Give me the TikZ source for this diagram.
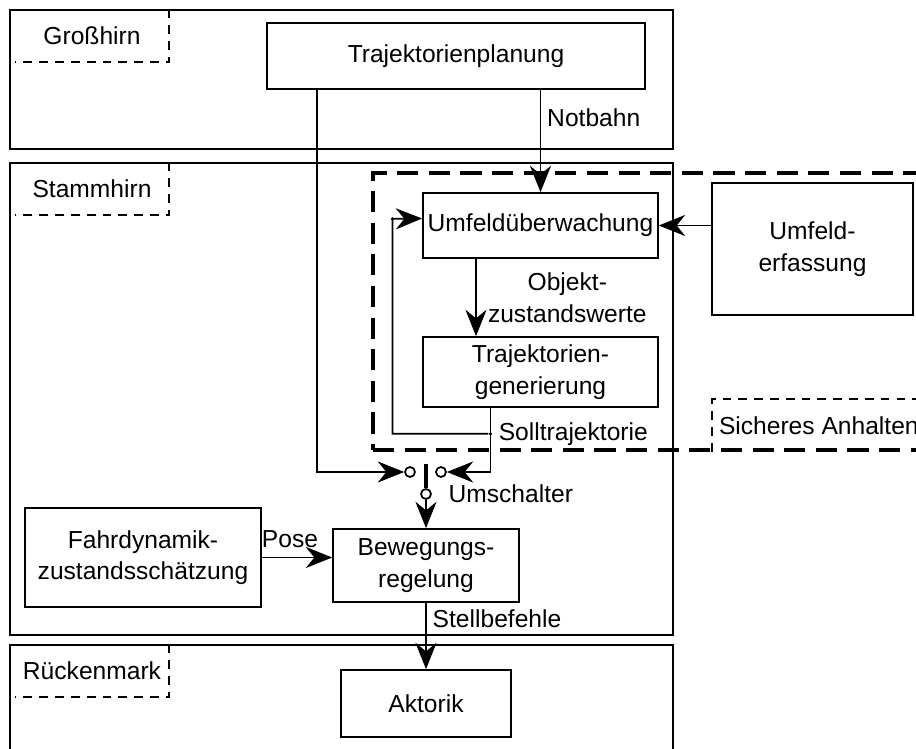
\documentclass[tikz,border=0pt]{standalone}
\usepackage{fontspec}
\setmainfont{Liberation Sans}
\usetikzlibrary{arrows.meta, positioning, calc}

\begin{document}
\begin{tikzpicture}[
  x=0.02cm, y=-0.02cm,
  font=\fontsize{14}{18}\selectfont,
  layer/.style={rectangle, draw, line width=1pt, minimum width=13.26cm, inner sep=0pt},
  tag/.style={rectangle, minimum width=3.08cm, minimum height=1.04cm, inner sep=0pt},
  tagline/.style={line width=1pt, dash pattern=on 5pt off 4pt},
  block/.style={rectangle, draw, line width=1pt, align=center, inner sep=0pt},
  arr/.style={-{Stealth[length=15pt, width=12pt]}, line width=1pt},
  contact/.style={circle, draw, line width=1pt, fill=white, minimum size=0.2cm, inner sep=0pt},
  junction/.style={circle, fill, minimum size=0.07cm, inner sep=0pt}
]
  \useasboundingbox (0,0) rectangle (916,749);

  % Schichten
  \node[layer, minimum height=2.78cm] (gross) at (341.5,79.5) {};
  \node[layer, minimum height=9.44cm] (stamm) at (341.5,399) {};
  \node[layer, minimum height=2.6cm] (ruecken) at (341.5,710) {};

  \node[tag] (grossTag) at (92,36) {Großhirn};
  \node[tag] (stammTag) at (92,188.5) {Stammhirn};
  \node[tag] (rueckenTag) at (92,671) {Rückenmark};
  \foreach \t in {grossTag,stammTag,rueckenTag}
    \draw[tagline] (\t.north east) -- (\t.south east) -- (\t.south west);

  % Sicheres Anhalten
  \node[rectangle, draw, line width=2.3pt, dash pattern=on 12pt off 6pt,
        minimum width=11.6cm, minimum height=5.54cm] (safe) at (663,311.5) {};
  \node[tag, anchor=north west, minimum width=4.26cm] (safeTag) at (712,399) {Sicheres Anhalten};
  \draw[tagline] (safeTag.south west) -- (safeTag.north west) -- ++(250,0);

  % Bloecke
  \node[block, minimum width=7.56cm, minimum height=1.32cm] (plan) at (456,56) {Trajektorienplanung};
  \node[block, minimum width=4.7cm, minimum height=1.3cm] (ueberw) at (540.5,225.5) {Umfeldüberwachung};
  \node[block, minimum width=4.02cm, minimum height=2.64cm] (erf) at (812.5,249) {Umfeld-\\erfassung};
  \node[block, minimum width=4.7cm, minimum height=1.4cm] (gen) at (540.5,372) {Trajektorien-\\generierung};
  \node[block, minimum width=4.72cm, minimum height=1.98cm] (fahr) at (143,557.5) {Fahrdynamik-\\zustandsschätzung};
  \node[block, minimum width=3.72cm, minimum height=1.46cm] (beweg) at (426,565.5) {Bewegungs-\\regelung};
  \node[block, minimum width=3.4cm, minimum height=1.34cm] (akt) at (426,703.5) {Aktorik};

  % Umschalter
  \node[contact] (swL) at (410,472) {};
  \node[contact] (swR) at (441,472) {};
  \node[contact] (swC) at (426,494) {};
  \draw[line width=2.5pt] (swC.north) -- ++(0,-24);
  \node[right=6pt of swC] (swTag) {Umschalter};

  % Verbindungen
  \draw[arr] (plan.south -| ueberw.north) -- node[pos=0.27, right] {Notbahn} (ueberw.north);
  \draw[arr] ($(plan.south west)+(51,0)$) |- (swL);
  \draw[arr] (ueberw.east -| erf.west) -- (ueberw.east);
  \draw[arr] ($(ueberw.south)+(-64.5,0)$) -- node[midway, right=3pt, align=center] {Objekt-\\zustandswerte} ($(gen.north)+(-64.5,0)$);
  \draw[arr] ($(gen.south)+(-50,0)$) |- (swR);
  \node[junction] (split) at ($(gen.south)+(-50,26)$) {};
  \node[junction] (corner) at ($(split)+(-98,-215)$) {};
  \node[right=0pt of split] (sollTag) {Solltrajektorie};
  \draw[arr] (split) -- (corner |- split) -- (corner.center) -- ($(ueberw.west)+(0,-7)$);
  \draw[arr] (swC) -- (beweg);
  \draw[arr] (fahr.east) -- node[pos=0.4, above=2pt] {Pose} (fahr.east -| beweg.west);
  \draw[arr] (beweg) -- node[pos=0.24, right] {Stellbefehle} (akt);
\end{tikzpicture}
\end{document}
